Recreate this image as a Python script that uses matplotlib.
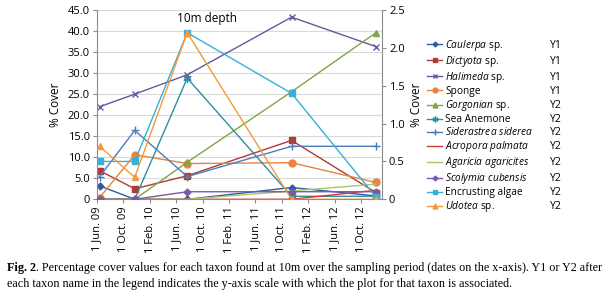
import matplotlib
matplotlib.use('Agg')
import matplotlib.pyplot as plt
from matplotlib.lines import Line2D
import datetime as dt

plt.rcParams['font.family'] = ['Open Sans', 'DejaVu Sans']
plt.rcParams['mathtext.fontset'] = 'custom'
plt.rcParams['mathtext.it'] = 'Open Sans:italic'
plt.rcParams['mathtext.rm'] = 'Open Sans'

# ---------------- data ----------------
dates = [dt.date(2009, 6, 13), dt.date(2009, 11, 22), dt.date(2010, 7, 22),
         dt.date(2011, 11, 15), dt.date(2012, 12, 8)]

caulerpa = [3.2, 0.0, 0.0, 2.8, 0.8]          # Y1
dictyota = [6.8, 2.5, 5.6, 14.0, 1.6]         # Y1
halimeda = [22.0, 25.0, 29.6, 43.3, 36.3]     # Y1
sponge = [0.4, 10.6, 8.5, 8.7, 4.0]           # Y1
gorgonian = [0.0, 0.0, 0.49, 1.42, 2.2]       # Y2
sea_anemone = [0.0, 0.0, 1.6, 0.04, 0.04]     # Y2
siderastrea = [0.30, 0.91, 0.30, 0.70, 0.70]  # Y2
acropora = [0.0, 0.0, 0.0, 0.0, 0.12]         # Y2
agaricia = [0.0, 0.0, 0.0, 0.11, 0.2]         # Y2
scolymia = [0.0, 0.0, 0.1, 0.1, 0.1]          # Y2
encrusting = [0.5, 0.5, 2.2, 1.4, 0.03]       # Y2
udotea = [0.70, 0.29, 2.2, 0.0, 0.0]          # Y2

names = [r"$\it{Caulerpa}$ sp.", r"$\it{Dictyota}$ sp.", r"$\it{Halimeda}$ sp.", "Sponge",
         r"$\it{Gorgonian}$ sp.", "Sea Anemone", r"$\it{Siderastrea\ siderea}$",
         r"$\it{Acropora\ palmata}$", r"$\it{Agaricia\ agaricites}$",
         r"$\it{Scolymia\ cubensis}$", "Encrusting algae", r"$\it{Udotea}$ sp."]
axis_ids = ['Y1', 'Y1', 'Y1', 'Y1', 'Y2', 'Y2', 'Y2', 'Y2', 'Y2', 'Y2', 'Y2', 'Y2']
series = [caulerpa, dictyota, halimeda, sponge, gorgonian, sea_anemone, siderastrea,
          acropora, agaricia, scolymia, encrusting, udotea]

tick_dates = [dt.date(2009, 6, 1), dt.date(2009, 10, 1), dt.date(2010, 2, 1),
              dt.date(2010, 6, 1), dt.date(2010, 10, 1), dt.date(2011, 2, 1),
              dt.date(2011, 6, 1), dt.date(2011, 10, 1), dt.date(2012, 2, 1),
              dt.date(2012, 6, 1), dt.date(2012, 10, 1)]
tick_labels = ["1 Jun. 09", "1 Oct. 09", "1 Feb. 10", "1 Jun. 10", "1 Oct. 10",
               "1 Feb. 11", "1 Jun. 11", "1 Oct. 11", "1 Feb. 12", "1 Jun. 12",
               "1 Oct. 12"]
y1_ticks = [0, 5, 10, 15, 20, 25, 30, 35, 40, 45]
y1_labels = ["0", "5.0", "10.0", "15.0", "20.0", "25.0", "30.0", "35.0", "40.0", "45.0"]
y2_ticks = [0, 0.5, 1.0, 1.5, 2.0, 2.5]
y2_labels = ["0", "0.5", "1.0", "1.5", "2.0", "2.5"]

# ---------------- styles ----------------
colors = ['#2f5c9c', '#b03a36', '#6a55a0', '#e8843c', '#7fa544', '#2e8fa0',
          '#4a7ebb', '#d23b32', '#a8c66c', '#7a5aa8', '#37b0d6', '#f39a3c']
markers = ['D', 's', 'x', 'o', '^', (6, 2, 0), '+', None, None, 'D', 's', '^']
msizes = [3.5, 5, 5, 5, 5, 6, 6, 0, 0, 3.5, 5, 5]

fig = plt.figure(figsize=(6.12, 3.01), dpi=100)
ax = fig.add_axes([97 / 612, 1 - 199.3 / 301, (382 - 97) / 612, (199.3 - 10) / 301])
ax2 = ax.twinx()

for i, (vals, aid) in enumerate(zip(series, axis_ids)):
    target = ax if aid == 'Y1' else ax2
    target.plot(dates, vals, color=colors[i], lw=1.0, marker=markers[i],
                markersize=msizes[i], markeredgewidth=1.0,
                markerfacecolor=colors[i], markeredgecolor=colors[i])

ax.set_xlim(dt.date(2009, 6, 1), dt.date(2013, 1, 5))
ax.set_ylim(0, 45)
ax2.set_ylim(0, 2.5)
ax.set_yticks(y1_ticks)
ax.set_yticklabels(y1_labels)
ax2.set_yticks(y2_ticks)
ax2.set_yticklabels(y2_labels)
ax.set_xticks(tick_dates)
ax.set_xticklabels(tick_labels, rotation=90)

ax.yaxis.grid(True, color='#d9d9d9', lw=0.8)
ax.set_axisbelow(True)
for a in (ax, ax2):
    a.spines['top'].set_visible(False)
    for s in ('left', 'right', 'bottom'):
        a.spines[s].set_color('#8c8c8c')
        a.spines[s].set_linewidth(0.8)
    a.tick_params(axis='both', labelsize=8, colors='#8c8c8c', labelcolor='black',
                  length=3, width=0.8, pad=2)
ax.spines['right'].set_visible(False)
ax2.spines['left'].set_visible(False)
ax2.spines['bottom'].set_visible(False)

ax.set_ylabel("% Cover", fontsize=8.5, labelpad=4)
ax2.set_ylabel("% Cover", fontsize=8.5, labelpad=4)
ax.text(0.385, 0.955, "10m depth", transform=ax.transAxes, ha='center', va='center',
        fontsize=8.5)

leg_handles = [Line2D([0], [0], color=colors[i], lw=1.0, marker=markers[i],
                      markersize=msizes[i] * 0.7, markerfacecolor=colors[i],
                      markeredgecolor=colors[i]) for i in range(len(series))]
leg = fig.legend(leg_handles, names, loc='upper left',
                 bbox_to_anchor=(427 / 612, 1 - 38 / 301),
                 frameon=False, fontsize=7.3, handlelength=1.5, handletextpad=0.3,
                 labelspacing=0.1, borderaxespad=0, borderpad=0)

fig.canvas.draw()
inv = fig.transFigure.inverted()
for txt, aid in zip(leg.get_texts(), axis_ids):
    bb = txt.get_window_extent()
    (_, y0), (_, y1) = inv.transform([(bb.x0, bb.y0), (bb.x1, bb.y1)])
    fig.text(550 / 612, (y0 + y1) / 2, aid, ha='left', va='center', fontsize=7.5)

# caption
cap_font = dict(family=['Liberation Serif', 'DejaVu Serif'], fontsize=8.7)
t1 = fig.text(7 / 612, 1 - 268 / 301, "Fig. 2", weight='bold', va='center', **cap_font)
fig.canvas.draw()
bb = t1.get_window_extent()
x_after = inv.transform((bb.x1, bb.y0))[0]
fig.text(x_after, 1 - 268 / 301,
         ". Percentage cover values for each taxon found at 10m over the sampling period "
         "(dates on the x-axis). Y1 or Y2 after", va='center', **cap_font)
fig.text(7 / 612, 1 - 284 / 301,
         "each taxon name in the legend indicates the y-axis scale with which the plot "
         "for that taxon is associated.", va='center', **cap_font)

fig.savefig('out.png', dpi=100)
